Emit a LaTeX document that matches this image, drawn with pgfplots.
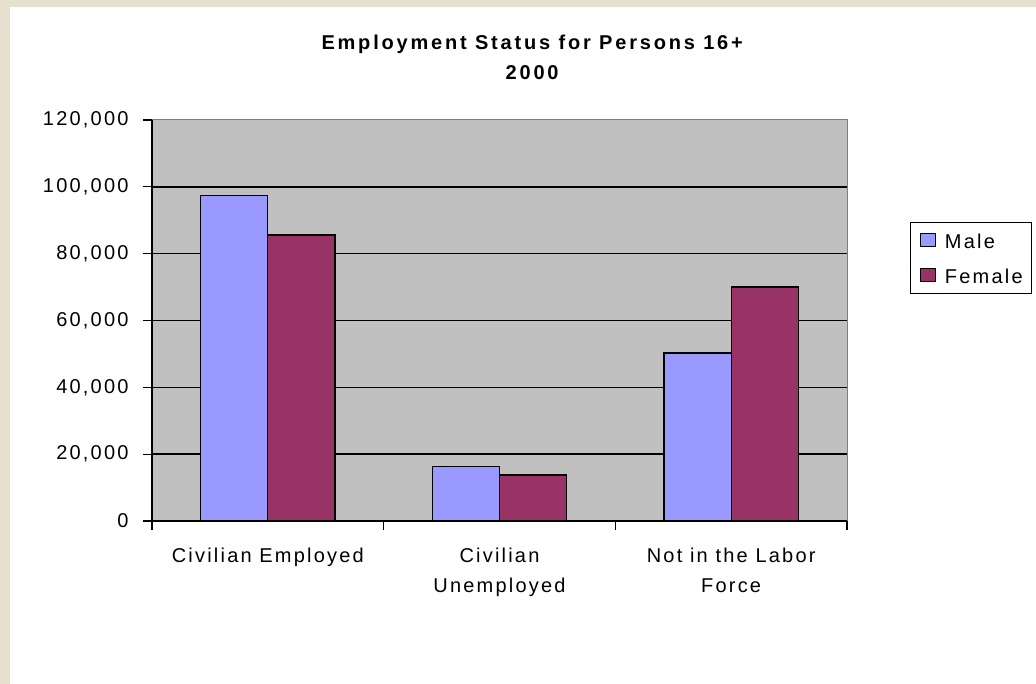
\documentclass[border=0pt]{standalone}
\usepackage{fontspec}
\setmainfont{Liberation Sans}
\newfontfamily\xlfont[LetterSpace=11]{Liberation Sans}
\newfontfamily\xltitle[LetterSpace=14]{Liberation Sans}
\usepackage{pgfplots}
\pgfplotsset{compat=1.18}
\definecolor{male}{HTML}{9999FF}
\definecolor{female}{HTML}{993366}
\definecolor{plotbg}{HTML}{C0C0C0}
\definecolor{frame}{HTML}{808080}
\definecolor{paper}{HTML}{E7E0CE}

\begin{document}
\begin{tikzpicture}[x=1bp,y=1bp]
  % page background: beige edge on the left and top, white card
  \fill[paper] (0,0) rectangle (1036,684);
  \fill[white] (10,0) rectangle (1036,677);

  \begin{axis}[
    at={(152bp,163bp)}, anchor=south west,
    scale only axis,
    width=695bp, height=401bp,
    xmin=-0.5, xmax=2.5,
    ymin=0, ymax=120000,
    axis background/.style={fill=plotbg, draw=frame, line width=1bp},
    axis x line*=bottom, axis y line*=left,
    axis line style={black, line width=1.6bp, -},
    ybar=0pt, bar width=0.29,
    xtick={-0.5,0.5,1.5,2.5},
    x tick label as interval,
    xticklabels={Civilian Employed, {Civilian\\Unemployed}, {Not in the Labor\\Force}},
    x tick label style={align=center, font=\xlfont\fontsize{20bp}{30bp}\selectfont, yshift=-14bp},
    ytick={0,20000,40000,60000,80000,100000},
    extra y ticks={120000},
    extra y tick style={grid=none},
    ymajorgrids,
    major grid style={black, line width=1.4bp},
    tick align=outside,
    major tick length=9bp,
    tick style={black, line width=1.3bp},
    y tick label style={font=\xlfont\fontsize{20bp}{24bp}\selectfont, xshift=-11bp},
    /pgf/number format/.cd, fixed, 1000 sep={,}, assume math mode=true,
    /pgfplots/.cd,
    scaled y ticks=false,
    title={Employment Status for Persons 16+\\2000},
    title style={at={(0.547,1.0)}, anchor=south, align=center,
      font=\xltitle\bfseries\fontsize{20bp}{30bp}\selectfont, yshift=31bp},
    legend style={at={(1.0907,0.7456)}, anchor=north west,
      draw=black, line width=1.3bp, fill=white,
      font=\xlfont\fontsize{20bp}{24bp}\selectfont,
      inner xsep=9bp, inner ysep=8bp,
      row sep=15bp,
      nodes={inner sep=0pt, text height=18bp, text depth=2bp},
      legend cell align=left},
    legend image code/.code={
      \draw[#1, line width=1.2bp] (0bp,-5.5bp) rectangle (15bp,7.5bp);
      \path (24bp,0bp);},
  ]
    \addplot[fill=male, draw=black, line width=1.3bp, bar shift=-0.145] coordinates {
      (0,97300) (1,16400) (2,50300)
    };
    \addlegendentry{Male}
    \addplot[fill=female, draw=black, line width=1.3bp, bar shift=0.145] coordinates {
      (0,85600) (1,13800) (2,70000)
    };
    \addlegendentry{Female}
  \end{axis}
\end{tikzpicture}
\end{document}
